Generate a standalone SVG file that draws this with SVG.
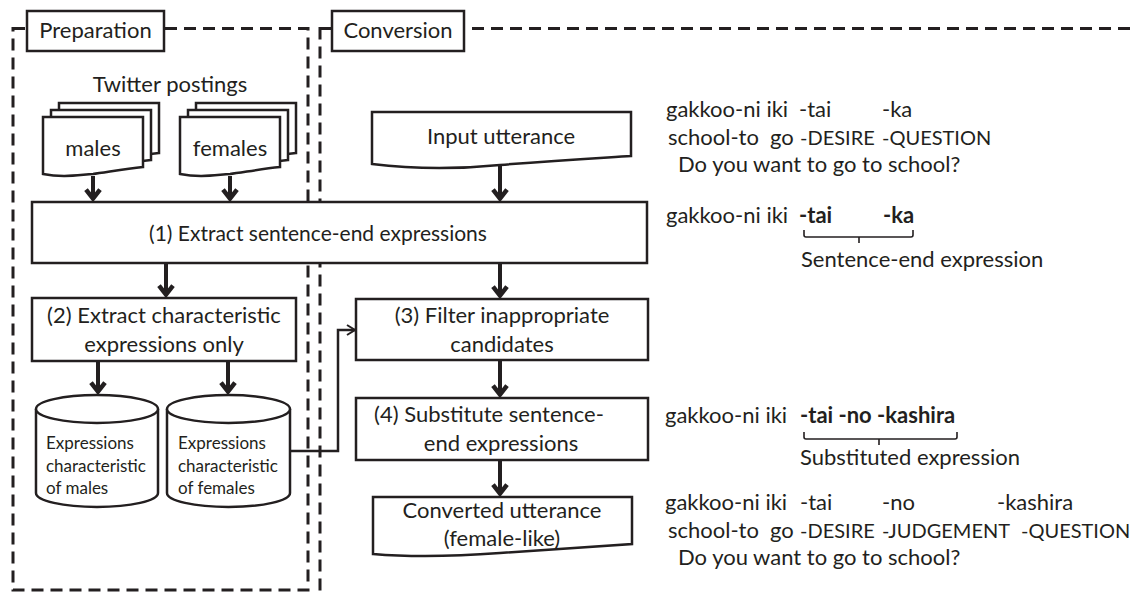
<svg xmlns="http://www.w3.org/2000/svg" width="1137" height="592" viewBox="0 0 1137 592">
  <style>
    .frame { fill: none; stroke: #231f20; stroke-width: 3; stroke-dasharray: 12 7; }
    .box { fill: #fff; stroke: #231f20; stroke-width: 2.5; }
    .lbl { fill: #fff; stroke: #231f20; stroke-width: 2.5; }
    .t { font-family: Lato, "Open Sans", sans-serif; font-size: 22px; fill: #231f20; }
    .c { text-anchor: middle; }
    .m { font-size: 21px; }
    .k { font-size: 20px; }
    .s { font-size: 17px; }
    .b { font-weight: bold; }
    .arrow { fill: none; stroke: #231f20; stroke-width: 4; marker-end: url(#head); }
    .thin { fill: none; stroke: #231f20; stroke-width: 2.5; marker-end: url(#headThin); }
    .brace { fill: none; stroke: #231f20; stroke-width: 1.6; }
  </style>
  <defs>
    <marker id="head" markerUnits="userSpaceOnUse" markerWidth="24" markerHeight="24" viewBox="-14 -12 24 24" refX="0" refY="0" orient="auto" overflow="visible">
      <path d="M-9.4,-7 L-0.4,0 L-9.4,7" fill="none" stroke="#231f20" stroke-width="4.5" stroke-linejoin="miter"/>
    </marker>
    <marker id="headThin" markerUnits="userSpaceOnUse" markerWidth="20" markerHeight="20" viewBox="-10 -10 20 20" refX="0" refY="0" orient="auto" overflow="visible">
      <path d="M-8,-5 L0,0 L-8,5" fill="none" stroke="#231f20" stroke-width="2"/>
    </marker>
    <!-- document shape with wavy bottom, 100 wide -->
    <path id="doc100" d="M0,0 H100 V50 C80,52 60,56 50,57 C35,58 20,61 0,57 Z"/>
  </defs>

  <rect width="1137" height="592" fill="#fff"/>

  <!-- section frames -->
  <g id="frames">
    <rect class="frame" x="13" y="28.5" width="295" height="561.5"/>
    <rect class="frame" x="320" y="28.5" width="840" height="600"/>
  </g>

  <g id="label-preparation">
    <rect class="lbl" x="27" y="11" width="137" height="40"/>
    <text class="t c" x="95.5" y="38">Preparation</text>
  </g>
  <g id="label-conversion">
    <rect class="lbl" x="332" y="11" width="132" height="40"/>
    <text class="t c" x="398" y="38">Conversion</text>
  </g>

  <!-- Twitter posting stacks -->
  <g id="twitter-postings">
    <text class="t c" x="170" y="92">Twitter postings</text>
  </g>
  <g id="doc-males">
    <use href="#doc100" x="59" y="103" class="box"/>
    <use href="#doc100" x="51" y="110" class="box"/>
    <use href="#doc100" x="43" y="117" class="box"/>
    <text class="t c" x="93" y="156">males</text>
  </g>
  <g id="doc-females">
    <use href="#doc100" x="196" y="103" class="box"/>
    <use href="#doc100" x="188" y="110" class="box"/>
    <use href="#doc100" x="180" y="117" class="box"/>
    <text class="t c" x="230" y="156">females</text>
  </g>

  <!-- connectors -->
  <g id="connectors">
    <path class="arrow" d="M93,176 V199"/>
    <path class="arrow" d="M230,176 V199"/>
    <path class="arrow" d="M500,166 V199"/>
    <path class="arrow" d="M166,263 V295"/>
    <path class="arrow" d="M500,263 V296"/>
    <path class="arrow" d="M98,361 V392"/>
    <path class="arrow" d="M228,361 V392"/>
    <path class="arrow" d="M500,360 V395"/>
    <path class="arrow" d="M500,460 V494"/>
    <path class="thin" d="M290,451 H338 V330 H355"/>
  </g>

  <g id="input-utterance">
    <path class="box" d="M372,112 H631 V156 C600,158 560,160 500,165 C470,168 420,170 372,164 Z"/>
    <text class="t c" x="501" y="144">Input utterance</text>
  </g>

  <g id="step1">
    <rect class="box" x="32" y="202" width="615" height="61"/>
    <text class="t m c" x="318" y="241">(1) Extract sentence-end expressions</text>
  </g>

  <g id="step2">
    <rect class="box" x="32" y="298" width="264" height="63"/>
    <text class="t c" x="164" y="323">(2) Extract characteristic</text>
    <text class="t c" x="164" y="352">expressions only</text>
  </g>

  <g id="db-males">
    <path class="box" d="M36,409 A61,14 0 0 1 158,409 V493 A61,14 0 0 1 36,493 Z"/>
    <path class="box" d="M36,409 A61,14 0 0 0 158,409" fill="none"/>
    <text class="t s" x="46" y="449">Expressions</text>
    <text class="t s" x="46" y="472">characteristic</text>
    <text class="t s" x="46" y="494">of males</text>
  </g>
  <g id="db-females">
    <path class="box" d="M167,409 A61.5,14 0 0 1 290,409 V493 A61.5,14 0 0 1 167,493 Z"/>
    <path class="box" d="M167,409 A61.5,14 0 0 0 290,409" fill="none"/>
    <text class="t s" x="178" y="449">Expressions</text>
    <text class="t s" x="178" y="472">characteristic</text>
    <text class="t s" x="178" y="494">of females</text>
  </g>

  <g id="step3">
    <rect class="box" x="356" y="299" width="292" height="61"/>
    <text class="t c" x="502" y="323">(3) Filter inappropriate</text>
    <text class="t c" x="502" y="352">candidates</text>
  </g>

  <g id="step4">
    <rect class="box" x="356" y="398" width="292" height="62"/>
    <text class="t c" x="489" y="422">(4) Substitute sentence-</text>
    <text class="t c" x="501" y="451">end expressions</text>
  </g>

  <g id="converted-utterance">
    <path class="box" d="M373,497 H632 V544 C600,546 560,549 500,553 C460,556 420,558 373,554 Z"/>
    <text class="t c" x="502" y="518">Converted utterance</text>
    <text class="t c" x="502" y="546">(female-like)</text>
  </g>

  <!-- example glosses -->
  <g id="example-input">
    <text class="t"><tspan x="666" y="117">gakkoo-ni iki</tspan><tspan x="799" y="117">-tai</tspan><tspan x="882" y="117">-ka</tspan></text>
    <text class="t"><tspan x="668" y="145">school-to</tspan><tspan x="770" y="145">go</tspan><tspan class="k" x="800" y="145">-DESIRE</tspan><tspan class="k" x="882" y="145">-QUESTION</tspan></text>
    <text class="t" x="678" y="172">Do you want to go to school?</text>
  </g>

  <g id="example-extracted">
    <text class="t"><tspan x="666" y="223">gakkoo-ni iki</tspan><tspan class="b" x="799" y="223">-tai</tspan><tspan class="b" x="883" y="223">-ka</tspan></text>
    <path class="brace" d="M804,230 V235 Q804,237 806,237 H911 Q913,237 913,235 V230 M859,237 V243"/>
    <text class="t" x="801" y="267">Sentence-end expression</text>
  </g>

  <g id="example-substituted">
    <text class="t"><tspan x="665" y="423">gakkoo-ni iki</tspan><tspan class="b" x="800" y="423">-tai -no -kashira</tspan></text>
    <path class="brace" d="M804,432 V437 Q804,439 806,439 H955 Q957,439 957,437 V432 M879,439 V445"/>
    <text class="t" x="800" y="465">Substituted expression</text>
  </g>

  <g id="example-output">
    <text class="t"><tspan x="665" y="510">gakkoo-ni iki</tspan><tspan x="800" y="510">-tai</tspan><tspan x="882" y="510">-no</tspan><tspan x="997" y="510">-kashira</tspan></text>
    <text class="t"><tspan x="668" y="538">school-to</tspan><tspan x="770" y="538">go</tspan><tspan class="k" x="800" y="538">-DESIRE</tspan><tspan class="k" x="882" y="538">-JUDGEMENT</tspan><tspan class="k" x="1021" y="538">-QUESTION</tspan></text>
    <text class="t" x="678" y="565">Do you want to go to school?</text>
  </g>
</svg>
